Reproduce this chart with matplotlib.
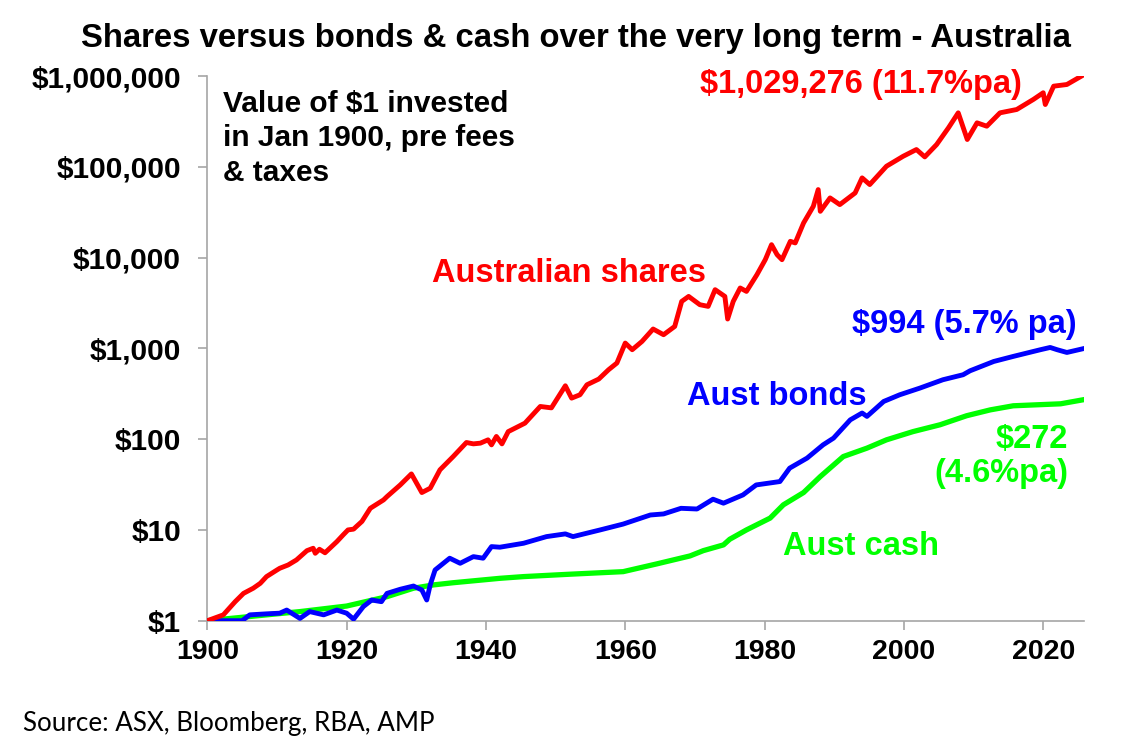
import matplotlib
matplotlib.use("Agg")
import matplotlib.pyplot as plt
from matplotlib.ticker import FixedLocator, FixedFormatter

plt.rcParams['font.family'] = ['Liberation Sans', 'DejaVu Sans']

# ---- data ----
shares_years = [1900.0, 1902.3, 1904.0, 1905.2, 1906.6, 1907.6, 1908.5, 1910.0, 1910.4, 1911.6,
                1912.8, 1914.3, 1915.2, 1915.5, 1916.1, 1916.9, 1918.6, 1919.5, 1920.2, 1921.0,
                1921.4, 1922.2, 1923.4, 1923.8, 1925.3, 1925.8, 1927.7, 1929.3, 1930.8, 1932.0,
                1933.4, 1935.3, 1937.2, 1938.2, 1939.2, 1940.3, 1940.8, 1941.5, 1942.3, 1943.2,
                1945.6, 1947.8, 1949.4, 1951.4, 1952.3, 1953.5, 1954.5, 1956.2, 1957.6, 1958.8,
                1960.0, 1961.0, 1962.4, 1964.0, 1965.5, 1967.1, 1968.1, 1969.1, 1970.7, 1971.9,
                1972.9, 1974.3, 1974.7, 1975.5, 1976.5, 1977.4, 1978.9, 1980.1, 1980.3, 1981.0,
                1981.8, 1982.5, 1983.7, 1984.4, 1985.6, 1987.0, 1987.7, 1988.0, 1989.4, 1990.8,
                1993.0, 1994.0, 1995.1, 1997.5, 1999.9, 2001.8, 2003.0, 2004.7, 2006.4, 2007.8,
                2009.1, 2010.5, 2011.9, 2013.8, 2016.2, 2018.6, 2020.0, 2020.3, 2021.5, 2023.4,
                2025.8]
shares_values = [1.0, 1.16, 1.62, 2.0, 2.28, 2.58, 3.06, 3.62, 3.78, 4.11,
                 4.67, 5.91, 6.28, 5.53, 6.12, 5.6, 7.43, 8.81, 10.0, 10.2,
                 10.9, 12.4, 17.3, 18.1, 21.4, 23.3, 31.3, 41.4, 25.8, 28.8,
                 45.9, 64.3, 91.8, 88.7, 90.3, 98.2, 86.5, 107, 88.7, 121,
                 150, 229, 221, 387, 283, 308, 397, 459, 581, 689,
                 1143, 966, 1191, 1633, 1413, 1743, 3288, 3733, 3027, 2900,
                 4430, 3733, 2104, 3288, 4624, 4240, 6473, 9480, 10300, 13870,
                 10760, 9480, 15100, 14500, 24060, 36700, 56100, 32300, 45400, 38300,
                 51500, 75500, 63700, 101400, 130600, 154900, 128500, 175800, 268600, 392900,
                 199700, 304800, 279900, 392900, 427600, 552500, 653700, 485300, 772700, 806100,
                 1029276]

bonds_years = [1900.0, 1905.0, 1906.1, 1908.5, 1910.4, 1911.4, 1913.3, 1914.7, 1916.7, 1918.6,
               1920.0, 1921.0, 1922.4, 1923.6, 1925.0, 1925.8, 1927.7, 1929.6, 1930.8, 1931.5,
               1932.0, 1932.7, 1934.8, 1936.3, 1938.2, 1939.6, 1940.8, 1942.0, 1945.4, 1948.7,
               1951.4, 1952.5, 1956.4, 1959.7, 1963.6, 1965.5, 1968.0, 1970.3, 1972.6, 1974.1,
               1976.9, 1978.8, 1982.2, 1983.6, 1986.1, 1988.4, 1989.9, 1992.3, 1994.0, 1994.7,
               1997.1, 1999.4, 2002.3, 2005.6, 2008.5, 2009.5, 2012.9, 2015.7, 2019.6, 2021.0,
               2022.0, 2023.4, 2025.8]
bonds_values = [1.0, 1.0, 1.16, 1.19, 1.21, 1.31, 1.06, 1.26, 1.16, 1.31,
                1.21, 1.04, 1.43, 1.69, 1.62, 2.00, 2.22, 2.41, 2.18, 1.69,
                2.48, 3.62, 4.88, 4.29, 5.08, 4.88, 6.55, 6.45, 7.13, 8.44,
                9.04, 8.44, 10.0, 11.6, 14.6, 15.0, 17.3, 17.0, 21.8, 19.7,
                24.3, 31.3, 34.1, 47.9, 61.8, 86.5, 102.6, 163, 194, 178,
                260, 308, 365, 451, 512, 566, 717, 815, 966, 1023,
                966, 901, 994]

cash_years = [1900.0, 1913.3, 1920.0, 1925.8, 1929.6, 1932.5, 1935.3, 1942.0, 1945.4, 1952.0,
              1959.7, 1964.5, 1969.3, 1971.2, 1974.1, 1975.0, 1977.4, 1980.8, 1982.7, 1985.6,
              1988.0, 1991.3, 1994.7, 1997.5, 2001.3, 2005.2, 2009.0, 2012.4, 2015.7, 2022.5,
              2025.8]
cash_values = [1.0, 1.26, 1.45, 1.84, 2.28, 2.48, 2.62, 2.93, 3.06, 3.25,
               3.47, 4.22, 5.17, 5.91, 6.84, 7.89, 10.0, 13.5, 18.9, 25.8,
               38.7, 64.3, 79.6, 98.2, 121, 144, 181, 210, 233, 245,
               272]

y_ticks = [1, 10, 100, 1000, 10000, 100000, 1000000]
y_tick_labels = ['$1', '$10', '$100', '$1,000', '$10,000', '$100,000', '$1,000,000']
x_ticks = [1900, 1920, 1940, 1960, 1980, 2000, 2020]
x_tick_labels = ['1900', '1920', '1940', '1960', '1980', '2000', '2020']

RED = '#FF0000'
BLUE = '#0000FF'
GREEN = '#00FF00'
GREY = '#A6A6A6'

W, H = 1129, 750
fig = plt.figure(figsize=(W / 100, H / 100), dpi=100)
ax = fig.add_axes([207.3 / W, 1 - 620.7 / H, (1084.3 - 207.3) / W, (620.7 - 76.0) / H])

ax.plot(cash_years, cash_values, color=GREEN, lw=3.8, solid_joinstyle='round', zorder=2)
ax.plot(bonds_years, bonds_values, color=BLUE, lw=3.5, solid_joinstyle='round', zorder=3)
ax.plot(shares_years, shares_values, color=RED, lw=3.5, solid_joinstyle='round', zorder=4)

ax.set_yscale('log')
ax.set_ylim(1, 1000000)
ax.set_xlim(1900, 2025.9)
ax.yaxis.set_major_locator(FixedLocator(y_ticks))
ax.yaxis.set_major_formatter(FixedFormatter(y_tick_labels))
ax.yaxis.set_minor_locator(FixedLocator([]))
ax.xaxis.set_major_locator(FixedLocator(x_ticks))
ax.xaxis.set_major_formatter(FixedFormatter(x_tick_labels))

for s in ['top', 'right']:
    ax.spines[s].set_visible(False)
for s in ['left', 'bottom']:
    ax.spines[s].set_color(GREY)
    ax.spines[s].set_linewidth(1.2)
ax.tick_params(axis='both', which='major', direction='out', length=6.5, width=1.2,
               color=GREY, labelcolor='black')
ax.tick_params(axis='y', pad=12.5, labelsize=21.5)
ax.tick_params(axis='x', pad=6.5, labelsize=20.5)
for lab in ax.get_xticklabels() + ax.get_yticklabels():
    lab.set_fontweight('bold')


def ftext(x, y, s, **kw):
    return fig.text(x / W, 1 - y / H, s, **kw)


ftext(576, 38, 'Shares versus bonds & cash over the very long term - Australia',
      ha='center', va='center', fontsize=23.7, fontweight='bold', color='black')
ftext(223, 90, 'Value of $1 invested\nin Jan 1900, pre fees\n& taxes',
      ha='left', va='top', fontsize=21.5, fontweight='bold', color='black', linespacing=1.29)
ftext(432, 281.7, 'Australian shares', ha='left', va='baseline', fontsize=23.5,
      fontweight='bold', color=RED)
ftext(700, 93.3, '$1,029,276 (11.7%pa)', ha='left', va='baseline', fontsize=23.5,
      fontweight='bold', color=RED)
ftext(852, 333.3, '$994 (5.7% pa)', ha='left', va='baseline', fontsize=23.5,
      fontweight='bold', color=BLUE)
ftext(687, 405, 'Aust bonds', ha='left', va='baseline', fontsize=23.5,
      fontweight='bold', color=BLUE)
ftext(1068, 448.3, '$272', ha='right', va='baseline', fontsize=23.5,
      fontweight='bold', color=GREEN)
ftext(1068, 481.7, '(4.6%pa)', ha='right', va='baseline', fontsize=23.5,
      fontweight='bold', color=GREEN)
ftext(783, 555, 'Aust cash', ha='left', va='baseline', fontsize=23.5,
      fontweight='bold', color=GREEN)
ftext(23, 723, 'Source: ASX, Bloomberg, RBA, AMP', ha='left', va='center',
      fontsize=18.7, color='black', family=['Lato', 'DejaVu Sans'])

fig.savefig('out.png', dpi=100)
